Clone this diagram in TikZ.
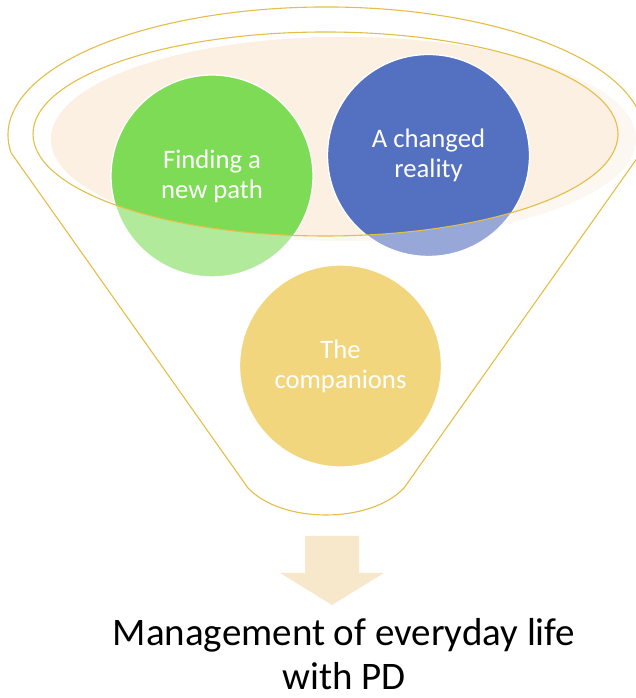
\documentclass[tikz,border=0pt]{standalone}
\usepackage{fontspec}
\setmainfont{Carlito}
\definecolor{cgreen}{HTML}{7EDB55}
\definecolor{cgreenl}{HTML}{B2EA9B}
\definecolor{cblue}{HTML}{5470C0}
\definecolor{cbluel}{HTML}{97A7D8}
\definecolor{cyellow}{HTML}{F2D67E}
\definecolor{ccream}{HTML}{FBF0E2}
\definecolor{ccreaml}{HTML}{FCF7F0}
\definecolor{cgold}{HTML}{E4BE46}
\definecolor{carrow}{HTML}{F7E8CC}
\begin{document}
\begin{tikzpicture}[x=1pt,y=1pt,
  goldline/.style={draw=cgold, line width=1.1pt},
  rim/.style={draw=white, line width=1.3pt},
  ctext/.style={text=white, align=center, font=\fontsize{26.7}{30}\selectfont},
  captext/.style={text=black, align=center, font=\fontsize{39}{44}\selectfont, inner sep=0pt, text depth=0pt}]
\useasboundingbox (0,0) rectangle (636,698);
% light parts (outside the funnel opening)
\fill[ccreaml] (343.5,559) ellipse [x radius=292.5, y radius=102];
\fill[cgreenl] (212,522) circle [radius=101];
\fill[cbluel] (428.5,542.5) circle [radius=101];
% full colour parts (inside the funnel opening)
\begin{scope}
  \clip (325.5,564) ellipse [x radius=292.5, y radius=102];
  \fill[ccream] (343.5,559) ellipse [x radius=292.5, y radius=102];
  \fill[cgreen] (212,522) circle [radius=101];
  \fill[cblue] (428.5,542.5) circle [radius=101];
\end{scope}
\draw[rim] (212,522) circle [radius=101];
\draw[rim] (428.5,542.5) circle [radius=101];
% funnel opening
\draw[goldline] (325.5,564) ellipse [x radius=292.5, y radius=102];
% funnel outline
\draw[goldline, line join=round] (11.2,545) -- (248,210)
  .. controls (282,174) and (370,174) .. (404,210)
  -- (640.8,545)
  arc [start angle=-8.1, end angle=188.1, x radius=318, y radius=128]
  -- cycle;
% companions circle
\fill[cyellow, rim] (340.5,332) circle [radius=101];
% circle labels
\node[ctext] (finding) at (212,522) {Finding a\\new path};
\node[ctext] (changed) at (428.5,542.5) {A changed\\reality};
\node[ctext] (companions) at (340.5,332) {The\\companions};
% down arrow
\fill[carrow] (305,162) -- (359,162) -- (359,125) -- (384,125) -- (332,93)
  -- (280,125) -- (305,125) -- cycle;
% caption
\node[captext, anchor=base] (caption) at (344,9) {Management of everyday life\\with PD};
\end{tikzpicture}
\end{document}
